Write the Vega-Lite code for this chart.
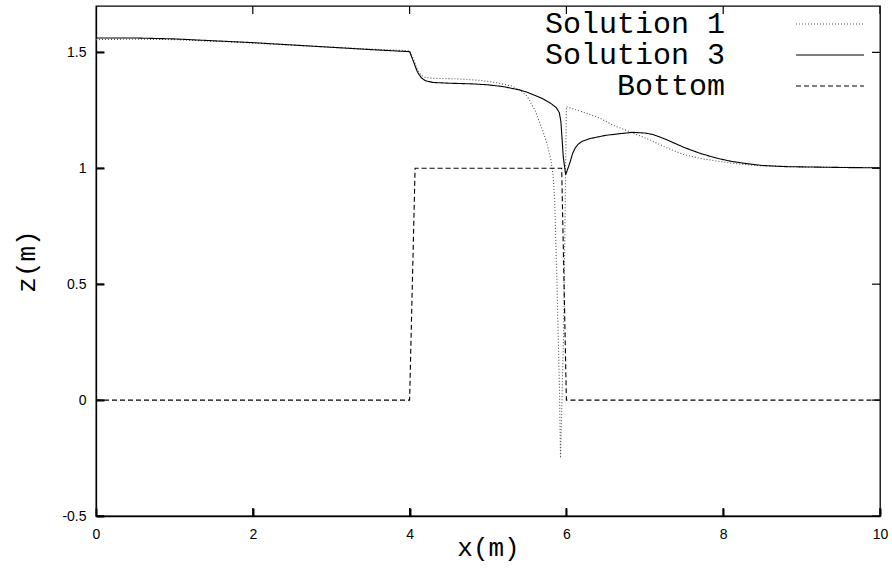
{
  "$schema": "https://vega.github.io/schema/vega-lite/v6.json",
  "autosize": {"type": "none"},
  "padding": {"left": 96, "top": 6, "right": 12, "bottom": 55},
  "width": 784,
  "height": 510,
  "background": "white",
  "config": {
    "view": {"stroke": "#000", "strokeWidth": 1.3},
    "axis": {"grid": false, "domain": true, "domainColor": "black", "domainWidth": 1.3, "labelFlush": false, "labelColor": "#000", "titleColor": "#000", "labelFont": "Liberation Sans", "labelFontSize": 14, "titleFont": "Liberation Mono", "titleFontSize": 26, "titleFontWeight": "normal"}
  },
  "data": {"values": [
    {"s": "Solution 1", "x": 0, "z": 1.555},
    {"s": "Solution 1", "x": 0.5, "z": 1.557},
    {"s": "Solution 1", "x": 1, "z": 1.555},
    {"s": "Solution 1", "x": 1.5, "z": 1.548},
    {"s": "Solution 1", "x": 2, "z": 1.54},
    {"s": "Solution 1", "x": 2.5, "z": 1.531},
    {"s": "Solution 1", "x": 3, "z": 1.522},
    {"s": "Solution 1", "x": 3.5, "z": 1.514},
    {"s": "Solution 1", "x": 4.0, "z": 1.507},
    {"s": "Solution 1", "x": 4.05, "z": 1.47},
    {"s": "Solution 1", "x": 4.1, "z": 1.425},
    {"s": "Solution 1", "x": 4.15, "z": 1.4},
    {"s": "Solution 1", "x": 4.2, "z": 1.392},
    {"s": "Solution 1", "x": 4.3, "z": 1.388},
    {"s": "Solution 1", "x": 4.6, "z": 1.386},
    {"s": "Solution 1", "x": 4.9, "z": 1.379},
    {"s": "Solution 1", "x": 5.1, "z": 1.37},
    {"s": "Solution 1", "x": 5.3, "z": 1.355},
    {"s": "Solution 1", "x": 5.4, "z": 1.34},
    {"s": "Solution 1", "x": 5.5, "z": 1.31},
    {"s": "Solution 1", "x": 5.6, "z": 1.25},
    {"s": "Solution 1", "x": 5.7, "z": 1.16},
    {"s": "Solution 1", "x": 5.75, "z": 1.11},
    {"s": "Solution 1", "x": 5.8, "z": 1.04},
    {"s": "Solution 1", "x": 5.83, "z": 0.97},
    {"s": "Solution 1", "x": 5.85, "z": 0.87},
    {"s": "Solution 1", "x": 5.88, "z": 0.5},
    {"s": "Solution 1", "x": 5.91, "z": 0.07},
    {"s": "Solution 1", "x": 5.925, "z": -0.25},
    {"s": "Solution 1", "x": 5.965, "z": 0.3},
    {"s": "Solution 1", "x": 6.0, "z": 1.266},
    {"s": "Solution 1", "x": 6.1, "z": 1.255},
    {"s": "Solution 1", "x": 6.26, "z": 1.237},
    {"s": "Solution 1", "x": 6.43, "z": 1.216},
    {"s": "Solution 1", "x": 6.6, "z": 1.185},
    {"s": "Solution 1", "x": 6.83, "z": 1.155},
    {"s": "Solution 1", "x": 7.07, "z": 1.122},
    {"s": "Solution 1", "x": 7.28, "z": 1.088},
    {"s": "Solution 1", "x": 7.49, "z": 1.06},
    {"s": "Solution 1", "x": 7.7, "z": 1.043},
    {"s": "Solution 1", "x": 7.92, "z": 1.031},
    {"s": "Solution 1", "x": 8.13, "z": 1.021},
    {"s": "Solution 1", "x": 8.34, "z": 1.014},
    {"s": "Solution 1", "x": 8.55, "z": 1.01},
    {"s": "Solution 1", "x": 9.0, "z": 1.006},
    {"s": "Solution 1", "x": 9.5, "z": 1.004},
    {"s": "Solution 1", "x": 10, "z": 1.003},
    {"s": "Solution 3", "x": 0, "z": 1.562},
    {"s": "Solution 3", "x": 0.5, "z": 1.562},
    {"s": "Solution 3", "x": 1, "z": 1.558},
    {"s": "Solution 3", "x": 1.5, "z": 1.55},
    {"s": "Solution 3", "x": 2, "z": 1.542},
    {"s": "Solution 3", "x": 2.5, "z": 1.532},
    {"s": "Solution 3", "x": 3, "z": 1.522},
    {"s": "Solution 3", "x": 3.5, "z": 1.512},
    {"s": "Solution 3", "x": 4.0, "z": 1.503},
    {"s": "Solution 3", "x": 4.05, "z": 1.46},
    {"s": "Solution 3", "x": 4.1, "z": 1.415},
    {"s": "Solution 3", "x": 4.15, "z": 1.39},
    {"s": "Solution 3", "x": 4.2, "z": 1.378},
    {"s": "Solution 3", "x": 4.3, "z": 1.37},
    {"s": "Solution 3", "x": 4.5, "z": 1.367},
    {"s": "Solution 3", "x": 4.8, "z": 1.364},
    {"s": "Solution 3", "x": 5.0, "z": 1.36},
    {"s": "Solution 3", "x": 5.2, "z": 1.352},
    {"s": "Solution 3", "x": 5.4, "z": 1.338},
    {"s": "Solution 3", "x": 5.5, "z": 1.328},
    {"s": "Solution 3", "x": 5.6, "z": 1.314},
    {"s": "Solution 3", "x": 5.7, "z": 1.3},
    {"s": "Solution 3", "x": 5.8, "z": 1.28},
    {"s": "Solution 3", "x": 5.87, "z": 1.262},
    {"s": "Solution 3", "x": 5.91, "z": 1.24},
    {"s": "Solution 3", "x": 5.93, "z": 1.2},
    {"s": "Solution 3", "x": 5.96, "z": 1.05},
    {"s": "Solution 3", "x": 5.99, "z": 0.972},
    {"s": "Solution 3", "x": 6.02, "z": 1.0},
    {"s": "Solution 3", "x": 6.05, "z": 1.03},
    {"s": "Solution 3", "x": 6.08, "z": 1.065},
    {"s": "Solution 3", "x": 6.11, "z": 1.086},
    {"s": "Solution 3", "x": 6.15, "z": 1.104},
    {"s": "Solution 3", "x": 6.2, "z": 1.116},
    {"s": "Solution 3", "x": 6.3, "z": 1.128},
    {"s": "Solution 3", "x": 6.5, "z": 1.142},
    {"s": "Solution 3", "x": 6.7, "z": 1.15},
    {"s": "Solution 3", "x": 6.85, "z": 1.155},
    {"s": "Solution 3", "x": 7.0, "z": 1.152},
    {"s": "Solution 3", "x": 7.1, "z": 1.146},
    {"s": "Solution 3", "x": 7.2, "z": 1.134},
    {"s": "Solution 3", "x": 7.3, "z": 1.12},
    {"s": "Solution 3", "x": 7.5, "z": 1.09},
    {"s": "Solution 3", "x": 7.7, "z": 1.065},
    {"s": "Solution 3", "x": 7.9, "z": 1.045},
    {"s": "Solution 3", "x": 8.1, "z": 1.03},
    {"s": "Solution 3", "x": 8.3, "z": 1.02},
    {"s": "Solution 3", "x": 8.5, "z": 1.012},
    {"s": "Solution 3", "x": 8.8, "z": 1.007},
    {"s": "Solution 3", "x": 9.2, "z": 1.005},
    {"s": "Solution 3", "x": 9.6, "z": 1.003},
    {"s": "Solution 3", "x": 10, "z": 1.002},
    {"s": "Bottom", "x": 0, "z": 0},
    {"s": "Bottom", "x": 4.0, "z": 0},
    {"s": "Bottom", "x": 4.07, "z": 1},
    {"s": "Bottom", "x": 5.94, "z": 1},
    {"s": "Bottom", "x": 6.0, "z": 0},
    {"s": "Bottom", "x": 10, "z": 0}
  ]},
  "resolve": {"axis": {"x": "independent", "y": "independent"}},
  "layer": [
    {
      "mark": {"type": "line", "strokeWidth": 1.1, "clip": true},
      "encoding": {
        "x": {"field": "x", "type": "quantitative", "scale": {"domain": [0, 10], "nice": false},
              "axis": {"orient": "bottom", "values": [0, 2, 4, 6, 8, 10], "tickSize": -8, "tickColor": "#000", "tickWidth": 2, "labelPadding": 19, "title": "x(m)", "titlePadding": -7, "labelExpr": "'' + datum.value"}},
        "y": {"field": "z", "type": "quantitative", "scale": {"domain": [-0.5, 1.7], "nice": false, "zero": false},
              "axis": {"orient": "left", "values": [-0.5, 0, 0.5, 1, 1.5], "tickSize": -8, "tickColor": "#000", "tickWidth": 2, "labelPadding": 18, "title": "z(m)", "titlePadding": 22, "labelExpr": "'' + datum.value"}},
        "color": {"field": "s", "type": "nominal",
                  "scale": {"domain": ["Solution 1", "Solution 3", "Bottom"], "range": ["#555555", "#000000", "#000000"]},
                  "legend": {"title": null, "orient": "none", "legendX": 694, "legendY": 3, "padding": 0, "symbolType": "M-4,0H4", "symbolSize": 289, "symbolOffset": 25, "symbolStrokeWidth": 1.1, "labelFont": "Liberation Mono", "labelFontSize": 30, "labelColor": "#000", "labelAlign": "right", "labelOffset": -120, "labelLimit": 0, "rowPadding": 1}},
        "strokeDash": {"field": "s", "type": "nominal",
                  "scale": {"domain": ["Solution 1", "Solution 3", "Bottom"], "range": [[1, 2], [1, 0], [5, 3]]},
                  "legend": {"title": null, "orient": "none", "legendX": 694, "legendY": 3, "padding": 0, "symbolType": "M-4,0H4", "symbolSize": 289, "symbolOffset": 25, "symbolStrokeWidth": 1.1, "labelFont": "Liberation Mono", "labelFontSize": 30, "labelColor": "#000", "labelAlign": "right", "labelOffset": -120, "labelLimit": 0, "rowPadding": 1}},
        "detail": {"field": "s"}
      }
    },
    {
      "data": {"values": [{"t": 0}, {"t": 2}, {"t": 4}, {"t": 6}, {"t": 8}, {"t": 10}]},
      "mark": {"type": "tick", "orient": "vertical", "size": 16, "thickness": 1.2, "color": "#000", "opacity": 1, "clip": true},
      "encoding": {
        "x": {"field": "t", "type": "quantitative", "axis": null},
        "y": {"datum": -0.5, "type": "quantitative", "axis": null}
      }
    },
    {
      "data": {"values": [{"t": 0}, {"t": 2}, {"t": 4}, {"t": 6}, {"t": 8}, {"t": 10}]},
      "mark": {"type": "tick", "orient": "vertical", "size": 16, "thickness": 1.2, "color": "#000", "opacity": 1, "clip": true},
      "encoding": {
        "x": {"field": "t", "type": "quantitative", "axis": null},
        "y": {"datum": 1.7, "type": "quantitative", "axis": null}
      }
    },
    {
      "data": {"values": [{"t": -0.5}, {"t": 0}, {"t": 0.5}, {"t": 1}, {"t": 1.5}]},
      "mark": {"type": "tick", "orient": "horizontal", "size": 16, "thickness": 1.2, "color": "#000", "opacity": 1, "clip": true},
      "encoding": {
        "x": {"datum": 0, "type": "quantitative", "axis": null},
        "y": {"field": "t", "type": "quantitative", "axis": null}
      }
    },
    {
      "data": {"values": [{"t": -0.5}, {"t": 0}, {"t": 0.5}, {"t": 1}, {"t": 1.5}]},
      "mark": {"type": "tick", "orient": "horizontal", "size": 16, "thickness": 1.2, "color": "#000", "opacity": 1, "clip": true},
      "encoding": {
        "x": {"datum": 10, "type": "quantitative", "axis": null},
        "y": {"field": "t", "type": "quantitative", "axis": null}
      }
    }
  ]
}
